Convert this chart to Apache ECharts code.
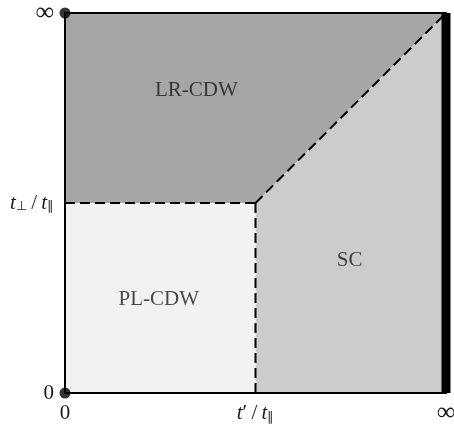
<!DOCTYPE html>
<html>
<head>
<meta charset="utf-8">
<script src="https://cdn.jsdelivr.net/npm/echarts@6/dist/echarts.min.js"></script>
<style>html,body{margin:0;padding:0;background:#fff}#c{width:454px;height:425px}</style>
</head>
<body>
<div id="c"></div>
<script>
// Phase boundary values (normalized axes: 0 .. 1 where 1 = infinity)
var tPrime = 0.5;   // t'/t_par
var tPerp = 0.5;    // t_perp/t_par
var xTicks = [0, 0.5, 1];
var xTickLabels = ['{n|0}', "{it|t}{n|′\u2009/\u2009}{it|t}{sub|∥}", '{inf|∞}'];
var yTicks = [0, 0.5, 1];
var yTickLabels = ['{n|0}', '{it|t}{sub|⊥}{n|\u2009/\u2009}{it|t}{sub|∥}', '{inf|∞}'];
var regionNames = ['LR-CDW', 'SC', 'PL-CDW'];
var regionPolys = [
  [[0, 0.5], [0.5, 0.5], [1, 1], [0, 1]],
  [[0.5, 0], [0.5, 0.5], [1, 1], [1, 0]],
  [[0, 0], [0.5, 0], [0.5, 0.5], [0, 0.5]]
];
var regionColors = ['#a6a6a6', '#cccccc', '#f2f2f2'];
var regionLabelPos = [[0.345, 0.795], [0.747, 0.35], [0.246, 0.247]];
var boundaryH = [[0, 0.5], [0.5, 0.5]];
var boundaryV = [[0.5, 0], [0.5, 0.5]];
var boundaryD = [[0.5, 0.5], [1, 1]];
var scEdge = [[1, 0], [1, 1]];
var dots = [[0, 0], [0, 1]];

var serif = 'Liberation Serif';
var rich = {
  it: {fontFamily: serif, fontStyle: 'italic', fontSize: 21, color: '#1a1a1a'},
  n: {fontFamily: serif, fontSize: 21, color: '#1a1a1a'},
  inf: {fontFamily: serif, fontSize: 26, lineHeight: 20, color: '#1a1a1a'},
  sub: {fontFamily: serif, fontSize: 13, color: '#1a1a1a', verticalAlign: 'bottom', padding: [8, 0, 0, 0]}
};
function fmt(ticks, labels) {
  return function (v) {
    for (var i = 0; i < ticks.length; i++) if (Math.abs(v - ticks[i]) < 1e-6) return labels[i];
    return '';
  };
}

var series = [];
regionPolys.forEach(function (poly, i) {
  series.push({
    type: 'custom', name: regionNames[i], z: 1,
    data: [0],
    renderItem: function (params, api) {
      return {
        type: 'polygon',
        shape: {points: poly.map(function (p) { return api.coord(p); })},
        style: {fill: regionColors[i], stroke: 'none'}
      };
    },
    silent: true
  });
});
[boundaryH, boundaryV, boundaryD].forEach(function (d) {
  series.push({
    type: 'line', data: d, symbol: 'none', z: 3, silent: true,
    lineStyle: {color: '#000', width: 2, type: [10, 5]}
  });
});
series.push({
  type: 'line', data: scEdge, symbol: 'none', z: 4, silent: true,
  lineStyle: {color: '#000', width: 9}
});
series.push({
  type: 'scatter', data: dots, symbolSize: 11, z: 6, clip: false, silent: true,
  itemStyle: {color: '#000'}
});
series.push({
  type: 'scatter', symbolSize: 0, z: 5, silent: true,
  data: regionLabelPos.map(function (p, i) { return {value: p, name: regionNames[i]}; }),
  label: {show: true, position: 'inside', formatter: '{b}', fontFamily: serif, fontSize: 21, color: '#1a1a1a'}
});

var chart = echarts.init(document.getElementById('c'), null, {renderer: 'canvas'});
chart.setOption({
  animation: false,
  backgroundColor: '#fff',
  grid: {left: 65, right: 8, top: 13, bottom: 32, containLabel: false, outerBoundsMode: 'none', show: true, borderColor: '#000', borderWidth: 2, backgroundColor: 'transparent', z: 10},
  xAxis: {
    type: 'value', min: 0, max: 1, interval: 0.5,
    axisLine: {show: true, lineStyle: {color: '#000', width: 2}},
    axisTick: {show: false}, splitLine: {show: false},
    axisLabel: {formatter: fmt(xTicks, xTickLabels), rich: rich, margin: 10, showMaxLabel: true, showMinLabel: true, fontFamily: serif, fontSize: 21, color: '#1a1a1a'}
  },
  yAxis: {
    type: 'value', min: 0, max: 1, interval: 0.5,
    axisLine: {show: true, lineStyle: {color: '#000', width: 2}},
    axisTick: {show: false}, splitLine: {show: false},
    axisLabel: {formatter: fmt(yTicks, yTickLabels), rich: rich, margin: 11, showMaxLabel: true, showMinLabel: true, fontFamily: serif, fontSize: 21, color: '#1a1a1a'}
  },
  series: series
});
</script>
</body>
</html>
